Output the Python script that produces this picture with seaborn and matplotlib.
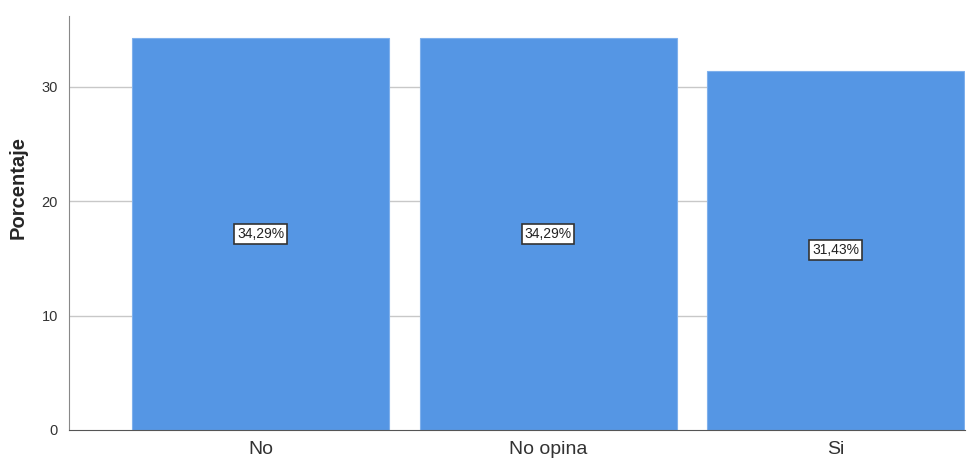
import pandas as pd
import matplotlib.pyplot as plt
import seaborn as sns

categorias = ["No", "No opina", "Si"]
porcentajes = [34.29, 34.29, 31.43]
etiquetas = ["34,29%", "34,29%", "31,43%"]

sns.set_style("white")
plt.rcParams["font.family"] = ["Liberation Sans", "DejaVu Sans"]

df = pd.DataFrame({"Categoria": categorias, "Porcentaje": porcentajes})

fig = plt.figure(figsize=(9.73, 4.59), dpi=100)
ax = fig.add_axes([0.0709, 0.0632, 0.921, 0.902])

sns.barplot(data=df, x="Categoria", y="Porcentaje", color="#5596e4",
            saturation=1, width=0.894, edgecolor="#7fb0ec", linewidth=0.8,
            ax=ax, zorder=2)

# gridlines
for yv in [10, 20, 30]:
    ax.axhline(yv, color="#c8c8c8", linewidth=1, zorder=1)

# value labels in boxes
for i, (v, lab) in enumerate(zip(porcentajes, etiquetas)):
    ax.text(i, v / 2, lab, ha="center", va="center", fontsize=10, color="#222222",
            zorder=3,
            bbox=dict(boxstyle="square,pad=0.2", facecolor="white",
                      edgecolor="#333333", linewidth=1.2))

ax.set_xlim(-0.666, 2.45)
ax.set_ylim(0, 36.2)
ax.set_yticks([0, 10, 20, 30])
ax.set_xlabel("")
ax.set_ylabel("Porcentaje", fontsize=14.5, fontweight="bold")
ax.yaxis.set_label_coords(-0.046, 0.585)
ax.tick_params(axis="x", labelsize=14, length=0, pad=8, colors="#333333")
ax.tick_params(axis="y", labelsize=10.5, length=0, pad=8, colors="#333333")

for s in ["top", "right"]:
    ax.spines[s].set_visible(False)
ax.spines["left"].set_color("#888888")
ax.spines["bottom"].set_color("#555555")

plt.savefig("out.png", dpi=100)
plt.close()
